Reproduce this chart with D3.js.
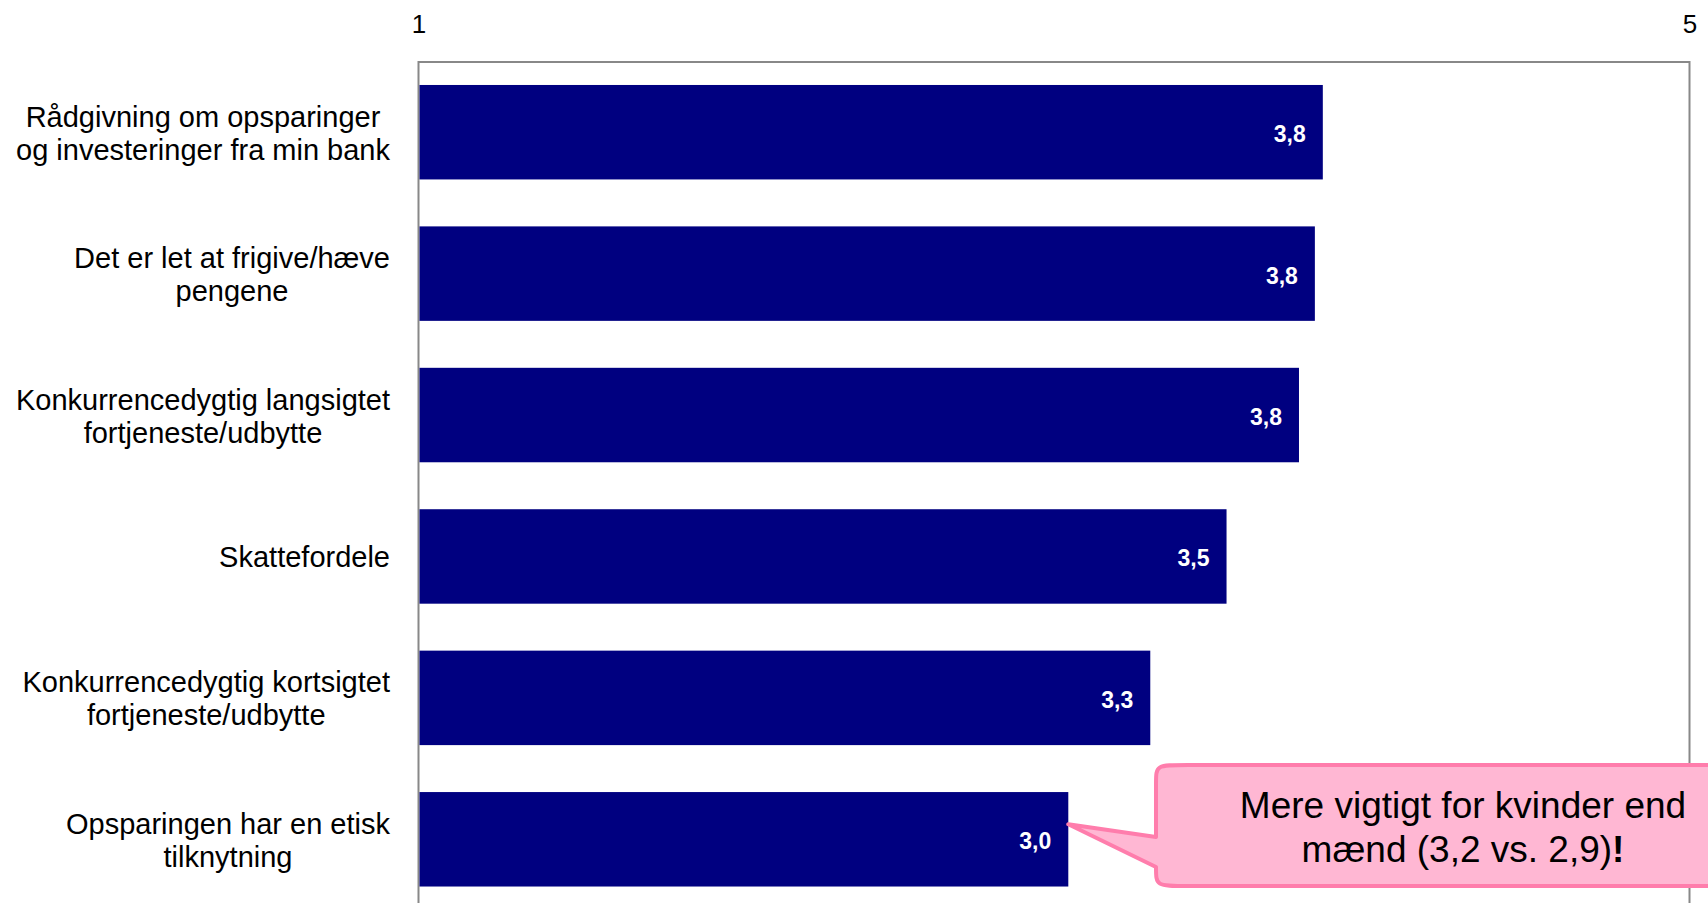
<!DOCTYPE html>
<html>
<head>
<meta charset="utf-8">
<script src="https://cdn.jsdelivr.net/npm/d3@7"></script>
<style>
  html, body { margin: 0; padding: 0; background: #fff; }
  svg { display: block; font-family: "Liberation Sans", Arial, Helvetica, sans-serif; }
</style>
</head>
<body>
<svg id="chart" width="1708" height="903"></svg>
<script>
// ---- data ----
const categories = [
  ["Rådgivning om opsparinger", "og investeringer fra min bank"],
  ["Det er let at frigive/hæve", "pengene"],
  ["Konkurrencedygtig langsigtet", "fortjeneste/udbytte"],
  ["Skattefordele"],
  ["Konkurrencedygtig kortsigtet", "fortjeneste/udbytte"],
  ["Opsparingen har en etisk", "tilknytning"]
];
const values = [3.846, 3.821, 3.771, 3.543, 3.303, 3.045];
const valueLabels = ["3,8", "3,8", "3,8", "3,5", "3,3", "3,0"];
const tickValues = [1, 5];
const calloutLines = ["Mere vigtigt for kvinder end", "mænd (3,2 vs. 2,9)"];
const calloutBang = "!";

// ---- layout ----
const svg = d3.select("#chart");
const ids = categories.map((d, i) => i);

const x = d3.scaleLinear().domain([1, 5]).range([418.5, 1689.5]);
const y = d3.scaleBand().domain(ids).range([61.5, 910]).paddingInner(0.332).paddingOuter(0.166);

// frame
svg.append("rect")
  .attr("x", x(1)).attr("y", 62)
  .attr("width", x(5) - x(1)).attr("height", 950)
  .attr("fill", "none").attr("stroke", "#888888").attr("stroke-width", 2);

// top axis tick labels
const axis = d3.axisTop(x).tickValues(tickValues).tickSize(0).tickPadding(0).tickFormat(d3.format("d"));
const gAxis = svg.append("g").attr("transform", "translate(0,33)").call(axis);
gAxis.select(".domain").remove();
gAxis.attr("font-size", 26).attr("font-family", "'Liberation Sans', Arial, sans-serif");
gAxis.selectAll("text").attr("font-size", 26).attr("fill", "#000").attr("dy", 0);

// bars
svg.append("g").selectAll("rect").data(values).join("rect")
  .attr("x", x(1) + 1)
  .attr("y", (d, i) => y(i))
  .attr("width", d => x(d) - x(1) - 1)
  .attr("height", y.bandwidth())
  .attr("fill", "#000080");

// value labels
svg.append("g").selectAll("text").data(values).join("text")
  .attr("x", d => x(d) - 17)
  .attr("y", (d, i) => y(i) + y.bandwidth() / 2 + 10)
  .attr("text-anchor", "end")
  .attr("font-size", 23).attr("font-weight", "bold").attr("fill", "#fff")
  .text((d, i) => valueLabels[i]);

// category labels (centered block, right-aligned at 390)
const labelRight = 390, lineH = 33, labelSize = 29;
const gLab = svg.append("g");
categories.forEach((lines, i) => {
  const cy = y(i) + y.bandwidth() / 2;
  const t = gLab.append("text")
    .attr("font-size", labelSize).attr("fill", "#000").attr("text-anchor", "middle");
  lines.forEach((ln, j) => {
    t.append("tspan").attr("y", cy - (lines.length - 1) * lineH / 2 + j * lineH + 11).text(ln);
  });
  let maxW = 0;
  t.selectAll("tspan").each(function() { maxW = Math.max(maxW, this.getComputedTextLength()); });
  t.selectAll("tspan").attr("x", labelRight - maxW / 2);
});

// callout bubble
const L = 1156, T = 765, R = 1770, B = 886, rx = 32, ry = 19;
const tipX = x(values[5]), tipY = y(5) + y.bandwidth() * 0.34;
const p = d3.path();
p.moveTo(L + rx, T);
p.lineTo(R - rx, T);
p.bezierCurveTo(R, T, R, T, R, T + ry);
p.lineTo(R, B - ry);
p.bezierCurveTo(R, B, R, B, R - rx, B);
p.lineTo(L + rx, B);
p.bezierCurveTo(L, B, L, B, L, B - ry);
p.lineTo(tipX, tipY);
p.lineTo(L, 837);
p.lineTo(L, T + ry);
p.bezierCurveTo(L, T, L, T, L + rx, T);
p.closePath();
svg.append("path").attr("d", p.toString())
  .attr("fill", "#FFB7D3").attr("stroke", "#FF7DAC").attr("stroke-width", 4)
  .attr("stroke-linejoin", "round");

const ct = svg.append("text").attr("font-size", 37).attr("fill", "#000").attr("text-anchor", "middle");
ct.append("tspan").attr("x", 1463).attr("y", 818).text(calloutLines[0]);
const l2 = ct.append("tspan").attr("x", 1463).attr("y", 862);
l2.append("tspan").text(calloutLines[1]);
l2.append("tspan").attr("font-weight", "bold").text(calloutBang);
</script>
</body>
</html>
